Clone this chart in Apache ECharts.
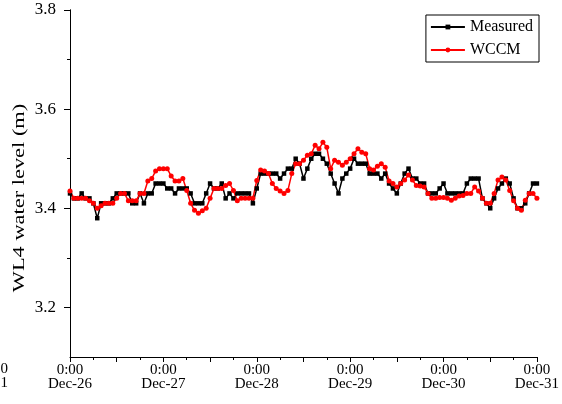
<!DOCTYPE html>
<html>
<head>
<meta charset="utf-8">
<script src="https://cdn.jsdelivr.net/npm/echarts@6/dist/echarts.min.js"></script>
<style>html,body{margin:0;padding:0;background:#fff;}#c{width:562px;height:404px;}</style>
</head>
<body>
<div id="c"></div>
<script>
// Hours since 0:00 Dec-26 (hourly samples)
const hours = [];
for (let h = 0; h <= 120; h++) hours.push(h);
const dayLabels = ['Dec-26', 'Dec-27', 'Dec-28', 'Dec-29', 'Dec-30', 'Dec-31'];
const yTickLabels = [3.2, 3.4, 3.6, 3.8];
const yMinorTicks = [3.3, 3.5, 3.7];
const yTitle = 'WL4 water level (m)';

const measured = [
  3.43, 3.42, 3.42, 3.43, 3.42, 3.42, 3.41, 3.38, 3.41, 3.41,
  3.41, 3.42, 3.43, 3.43, 3.43, 3.43, 3.41, 3.41, 3.43, 3.41,
  3.43, 3.43, 3.45, 3.45, 3.45, 3.44, 3.44, 3.43, 3.44, 3.44,
  3.44, 3.43, 3.41, 3.41, 3.41, 3.43, 3.45, 3.44, 3.44, 3.45,
  3.42, 3.43, 3.42, 3.43, 3.43, 3.43, 3.43, 3.41, 3.44, 3.47,
  3.47, 3.47, 3.47, 3.47, 3.46, 3.47, 3.48, 3.48, 3.50, 3.49,
  3.46, 3.48, 3.50, 3.51, 3.51, 3.50, 3.49, 3.47, 3.45, 3.43,
  3.46, 3.47, 3.48, 3.50, 3.49, 3.49, 3.49, 3.47, 3.47, 3.47,
  3.46, 3.47, 3.45, 3.44, 3.43, 3.45, 3.47, 3.48, 3.46, 3.46,
  3.45, 3.45, 3.43, 3.43, 3.43, 3.44, 3.45, 3.43, 3.43, 3.43,
  3.43, 3.43, 3.45, 3.46, 3.46, 3.46, 3.42, 3.41, 3.40, 3.42,
  3.44, 3.45, 3.46, 3.45, 3.42, 3.40, 3.40, 3.41, 3.43, 3.45,
  3.45
];
const wccm = [
  3.435, 3.42, 3.42, 3.42, 3.42, 3.415, 3.41, 3.40, 3.405, 3.41,
  3.41, 3.41, 3.42, 3.43, 3.43, 3.415, 3.415, 3.415, 3.43, 3.43,
  3.455, 3.46, 3.475, 3.48, 3.48, 3.48, 3.465, 3.455, 3.455, 3.46,
  3.436, 3.41, 3.396, 3.39, 3.395, 3.40, 3.42, 3.44, 3.44, 3.44,
  3.446, 3.45, 3.436, 3.415, 3.42, 3.42, 3.42, 3.42, 3.456, 3.477,
  3.475, 3.47, 3.45, 3.44, 3.435, 3.43, 3.436, 3.47, 3.49, 3.49,
  3.497, 3.507, 3.51, 3.527, 3.52, 3.533, 3.523, 3.48, 3.497, 3.493,
  3.487, 3.493, 3.50, 3.51, 3.52, 3.513, 3.51, 3.48, 3.477, 3.485,
  3.49, 3.483, 3.455, 3.45, 3.443, 3.45, 3.457, 3.467, 3.457, 3.446,
  3.445, 3.443, 3.43, 3.42, 3.42, 3.422, 3.422, 3.42, 3.416, 3.42,
  3.425, 3.426, 3.43, 3.43, 3.443, 3.435, 3.42, 3.41, 3.41, 3.43,
  3.457, 3.463, 3.457, 3.436, 3.415, 3.40, 3.396, 3.416, 3.43, 3.43,
  3.42
];

const font = 'Liberation Serif';
const chart = echarts.init(document.getElementById('c'), null, {renderer: 'canvas'});
const yAxisBase = {
  type: 'value', min: 3.1, max: 3.8, position: 'left',
  splitLine: {show: false},
  axisLine: {show: true, onZero: false, lineStyle: {color: '#000', width: 1}}
};
chart.setOption({
  animation: false,
  backgroundColor: '#fff',
  grid: {left: 70, right: 23, top: 10, bottom: 47, containLabel: false},
  legend: {
    orient: 'vertical', right: 23, top: 15,
    borderColor: '#000', borderWidth: 1, padding: [4, 6, 4, 4],
    itemWidth: 34, itemHeight: 6, itemGap: 7,
    textStyle: {fontFamily: font, fontSize: 16, color: '#000'},
    data: ['Measured', 'WCCM']
  },
  graphic: [
    {
      type: 'text', x: 20, y: 198, rotation: Math.PI / 2, scaleX: 1.4,
      style: {text: yTitle, fontFamily: font, fontSize: 16, fill: '#000',
        textAlign: 'center', textVerticalAlign: 'middle'}
    },
    {
      type: 'text', x: 8, y: 362,
      style: {text: '0:00\nDec-31', fontFamily: font, fontSize: 15, lineHeight: 14, fill: '#000',
        textAlign: 'right', textVerticalAlign: 'top'}
    }
  ],
  xAxis: {
    type: 'value', min: 0, max: 120, interval: 12,
    splitLine: {show: false},
    axisLine: {onZero: false, lineStyle: {color: '#000', width: 1}},
    axisTick: {show: true, length: 5, lineStyle: {color: '#000'}},
    minorTick: {show: true, splitNumber: 2, length: 3, lineStyle: {color: '#000'}},
    axisLabel: {
      fontFamily: font, fontSize: 15, color: '#000', lineHeight: 14, margin: 6,
      formatter: v => (v % 24 === 0) ? '0:00\n' + dayLabels[v / 24] : ''
    }
  },
  yAxis: [
    Object.assign({}, yAxisBase, {
      axisTick: {show: true, length: 6, customValues: yTickLabels, lineStyle: {color: '#000'}},
      axisLabel: {show: true, customValues: yTickLabels, fontFamily: font, fontSize: 17, color: '#000', margin: 14,
        formatter: v => v.toFixed(1)}
    }),
    Object.assign({}, yAxisBase, {
      axisTick: {show: true, length: 3, customValues: yMinorTicks, lineStyle: {color: '#000'}},
      axisLabel: {show: false}
    })
  ],
  series: [
    {
      name: 'Measured', type: 'line', yAxisIndex: 0,
      data: hours.map((h, i) => [h, measured[i]]),
      symbol: 'rect', symbolSize: 4.5, showSymbol: true,
      lineStyle: {color: '#000', width: 1.5},
      itemStyle: {color: '#000'}
    },
    {
      name: 'WCCM', type: 'line', yAxisIndex: 0,
      data: hours.map((h, i) => [h, wccm[i]]),
      symbol: 'circle', symbolSize: 5, showSymbol: true,
      lineStyle: {color: '#ff0000', width: 1.5},
      itemStyle: {color: '#ff0000'}
    }
  ]
});
</script>
</body>
</html>
